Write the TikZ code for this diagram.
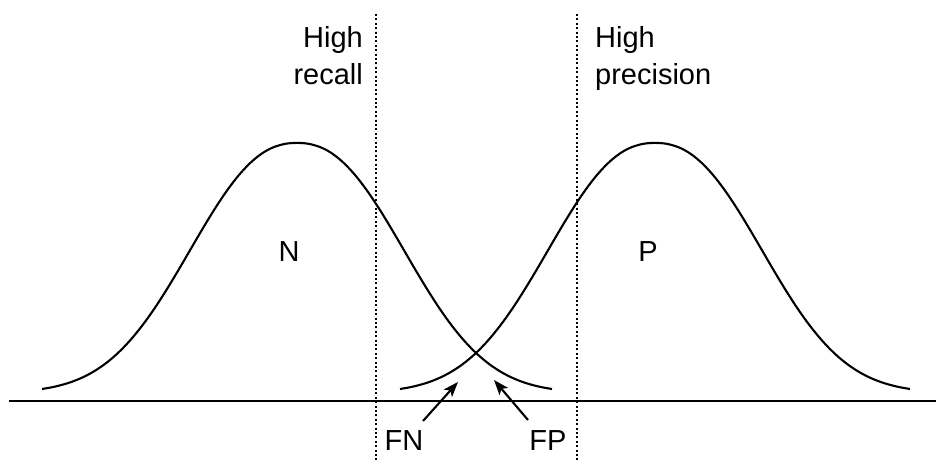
\documentclass[tikz,border=0pt]{standalone}
\usepackage{fontspec}
\setmainfont{Liberation Sans}
\usetikzlibrary{arrows.meta}
\begin{document}
\begin{tikzpicture}[x=1pt,y=1pt,
  lbl/.style={font=\fontsize{29}{37.5}\selectfont, inner sep=0pt},
  curve/.style={line width=2.1pt},
  axisline/.style={line width=2.1pt},
  thr/.style={line width=2pt, dash pattern=on 2pt off 2.4pt},
  ptr/.style={line width=2.1pt, -{Stealth[length=15pt,width=11pt,inset=3.5pt]}}]
\useasboundingbox (0,0) rectangle (936,460);
% axis
\coordinate (axL) at (9,59);
\coordinate (axR) at (936,59);
\draw[axisline] (axL) -- (axR);
% distributions
\draw[curve] plot[domain=-255:255, samples=102, smooth]
  ({297+\x},{67+250*exp(-pow((abs(\x)+0.001)/137.6,2.3))});
\draw[curve] plot[domain=-255:255, samples=102, smooth]
  ({655+\x},{67+250*exp(-pow((abs(\x)+0.001)/137.6,2.3))});
% thresholds
\coordinate (t1top) at (376,446);
\coordinate (t1bot) at (376,0);
\coordinate (t2top) at (577,446);
\coordinate (t2bot) at (577,0);
\draw[thr] (t1top) -- (t1bot);
\draw[thr] (t2top) -- (t2bot);
% labels
\node[lbl, anchor=north east, align=right] (rec) at (363,434) {High\\recall};
\node[lbl, anchor=north west, align=left] (prec) at (595,434) {High\\precision};
\node[lbl] (N) at (289,208) {N};
\node[lbl] (P) at (648,208) {P};
\node[lbl] (FN) at (404,19) {FN};
\node[lbl] (FP) at (548,19) {FP};
% pointers
\coordinate (fnTail) at (423,39);
\coordinate (fnTip) at (458,78);
\coordinate (fpTail) at (528,40);
\coordinate (fpTip) at (494,80);
\draw[ptr] (fnTail) -- (fnTip);
\draw[ptr] (fpTail) -- (fpTip);
\end{tikzpicture}
\end{document}
